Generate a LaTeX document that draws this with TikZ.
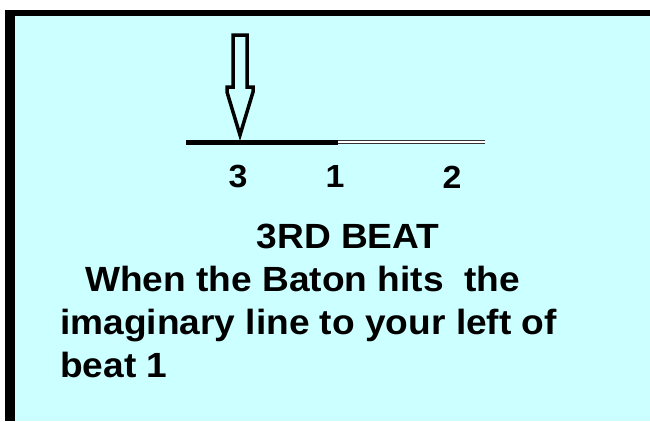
\documentclass[tikz,border=0pt]{standalone}
\usepackage{fontspec}
\setmainfont{Liberation Sans}[FakeStretch=1.06]
\definecolor{panel}{HTML}{CCFFFF}
\begin{document}
\begin{tikzpicture}[x=1pt, y=-1pt, font=\bfseries\fontsize{35}{42}\selectfont,
        every node/.style={inner sep=0pt, anchor=base},
        beatnum/.style={font=\bfseries\fontsize{32}{38}\selectfont},
        baton/.style={draw=black, line width=3.5pt, line join=miter}]
        \useasboundingbox (0,0) rectangle (650,421);
        \fill[panel] (15,16) rectangle (650,421);
        \fill[black] (5,10) rectangle (650,16);
        \fill[black] (5,10) rectangle (15,421);

        \coordinate (lineL) at (186,142);
        \coordinate (lineM) at (338,142);
        \coordinate (lineR) at (485,142);
        \coordinate (tip) at (240,135);
        \draw[line width=5pt] (lineL) -- (lineM);
        \draw[line width=4.5pt, black!80] (lineM) -- (lineR);
        \draw[line width=1.2pt, white] (lineM) -- (lineR);
        \draw[baton] (233,35) -- (247,35) -- (247,87) -- (253,87) -- (253,92) -- (tip)
                -- (227,92) -- (227,87) -- (233,87) -- cycle;

        \node[beatnum] (three) at (238,187) {3};
        \node[beatnum] (one) at (335,187) {1};
        \node[beatnum] (two) at (452,188) {2};

        \node (title) at (348,248) {3RD BEAT};
        \node[anchor=base west] (textA) at (85,291) {When the Baton hits\ \ the};
        \node[anchor=base west] (textB) at (60,334) {imaginary line to your left of};
        \node[anchor=base west] (textC) at (60,377) {beat 1};
    \end{tikzpicture}
\end{document}
